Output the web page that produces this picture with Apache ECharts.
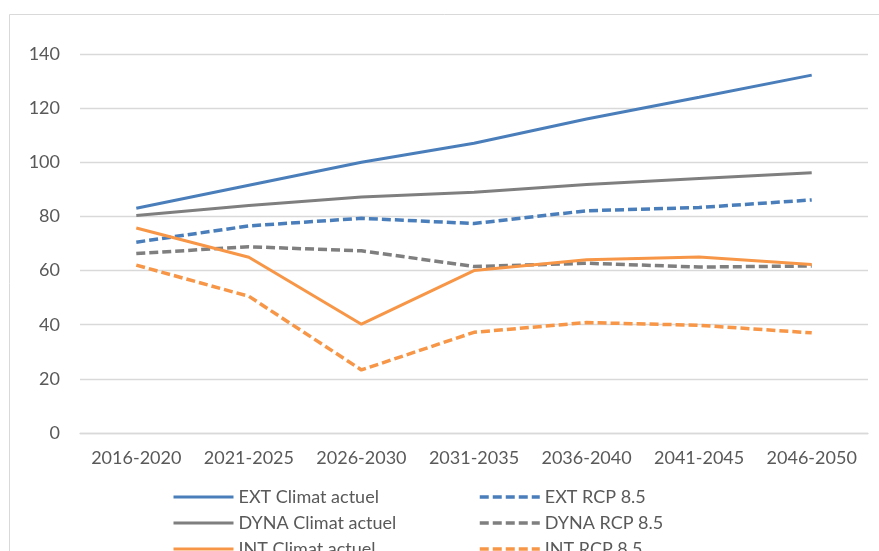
<!DOCTYPE html>
<html>
<head>
<meta charset="utf-8">
<script src="https://cdn.jsdelivr.net/npm/echarts@6/dist/echarts.min.js"></script>
<style>
  html, body { margin: 0; padding: 0; background: #fff; }
  #chart { width: 879px; height: 551px; }
</style>
</head>
<body>
<div id="chart"></div>
<script>
// periods on the x axis
const periods = ['2016-2020', '2021-2025', '2026-2030', '2031-2035', '2036-2040', '2041-2045', '2046-2050']

// solid lines (current climate)
const extActuel = [83, 91.5, 100, 107, 116, 124, 132.2]
const dynaActuel = [80.3, 84, 87.2, 88.9, 91.8, 94, 96.1]
const intActuel = [75.7, 64.9, 40.2, 60, 64, 65, 62.2]

// dashed lines (RCP 8.5)
const extRcp = [70.5, 76.5, 79.3, 77.4, 82.1, 83.3, 86.1]
const dynaRcp = [66.3, 68.8, 67.3, 61.5, 62.7, 61.3, 61.7]
const intRcp = [62, 50.5, 23.3, 37.2, 40.8, 39.8, 37]

const BLUE = '#4A7EBB'
const GRAY = '#7F7F7F'
const ORANGE = '#F79646'
const FONT = 'Lato'
const dash = [9, 4]

function line (name, data, color, dashed) {
  return {
    name: name,
    type: 'line',
    data: data,
    symbol: 'none',
    animation: false,
    lineStyle: {
      color: color,
      width: dashed ? 3.5 : 3,
      type: dashed ? dash : 'solid',
      cap: 'butt'
    },
    itemStyle: { color: color }
  }
}

const legendText = { color: '#595959', fontSize: 18, fontFamily: FONT, lineHeight: 20 }

function legendCol (left, names) {
  return {
    orient: 'vertical',
    left: left,
    top: 487,
    height: 200,
    padding: 0,
    itemWidth: 60,
    itemHeight: 14,
    itemGap: 6,
    itemStyle: { opacity: 0 },
    lineStyle: { width: 'inherit' },
    textStyle: legendText,
    data: names
  }
}

const chart = echarts.init(document.getElementById('chart'))
chart.setOption({
  animation: false,
  backgroundColor: '#fff',
  graphic: [
    {
      type: 'rect',
      shape: { x: 9.5, y: 14.5, width: 900, height: 600 },
      style: { fill: 'none', stroke: '#D9D9D9', lineWidth: 1 },
      silent: true
    }
  ],
  grid: { left: 80, right: 11, top: 54, bottom: 118 },
  legend: [
    legendCol(172, ['EXT Climat actuel', 'DYNA Climat actuel', 'INT Climat actuel']),
    legendCol(478, ['EXT RCP 8.5', 'DYNA RCP 8.5', 'INT RCP 8.5'])
  ],
  xAxis: {
    type: 'category',
    data: periods,
    boundaryGap: true,
    axisLine: { show: true, lineStyle: { color: '#D9D9D9', width: 1.3 } },
    axisTick: { show: false },
    axisLabel: { color: '#595959', fontSize: 18, fontFamily: FONT, margin: 16, interval: 0 }
  },
  yAxis: {
    type: 'value',
    min: 0,
    max: 140,
    interval: 20,
    axisLine: { show: false },
    axisTick: { show: false },
    axisLabel: { color: '#595959', fontSize: 18, fontFamily: FONT, margin: 20 },
    splitLine: { lineStyle: { color: '#D9D9D9', width: 1.3 } }
  },
  series: [
    line('EXT Climat actuel', extActuel, BLUE, false),
    line('EXT RCP 8.5', extRcp, BLUE, true),
    line('DYNA Climat actuel', dynaActuel, GRAY, false),
    line('DYNA RCP 8.5', dynaRcp, GRAY, true),
    line('INT Climat actuel', intActuel, ORANGE, false),
    line('INT RCP 8.5', intRcp, ORANGE, true)
  ]
})
</script>
</body>
</html>
